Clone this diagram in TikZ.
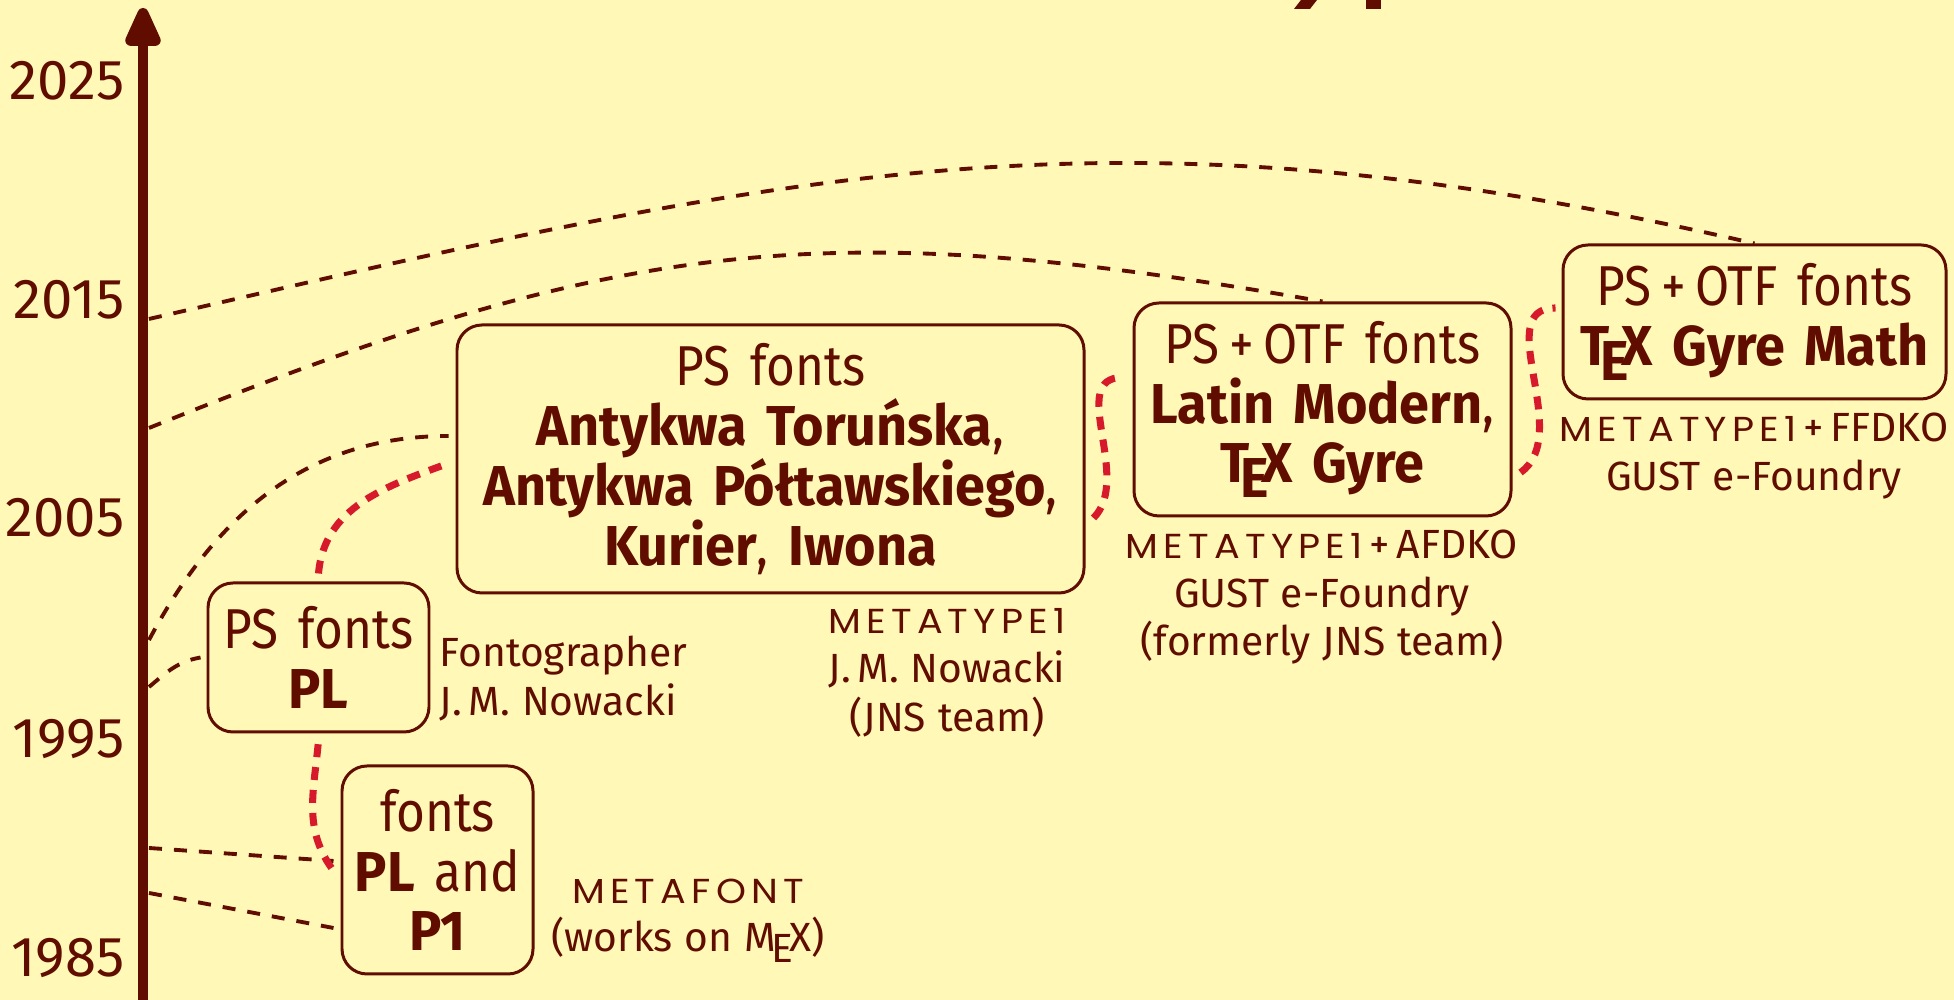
\documentclass[tikz,border=0pt]{standalone}
\usepackage{fontspec}
\setmainfont{Fira Sans}[FakeStretch=0.88,WordSpace=1.5,BoldFeatures={FakeStretch=0.96}]
\newfontfamily\notefont{Fira Sans}[WordSpace=1.1]
\newfontfamily\mtfont{Poppins}[Scale=0.85,FakeStretch=1.1,LetterSpace=15]
\usetikzlibrary{arrows.meta}
\definecolor{bgyellow}{HTML}{FFF8B6}
\definecolor{darkred}{HTML}{600D00}
\definecolor{linkred}{HTML}{D61A2B}
\newcommand{\mainsize}{\fontsize{16}{17}\selectfont}
\newcommand{\notesize}{\fontsize{11.6}{13.9}\selectfont}
\newcommand{\MEXlogo}{M\kern-.12em\lower.5ex\hbox{E}\kern-.08emX}
\newcommand{\MT}{{\mtfont METATYPE1}}
\begin{document}
\begin{tikzpicture}[
	fontbox/.style={draw=darkred,line width=0.85pt,rounded corners=0.25cm,align=center,inner sep=0pt,font=\mainsize,text=darkred},
	note/.style={anchor=north,align=center,inner sep=0pt,font=\notefont\notesize,text=darkred},
	year/.style={anchor=east,inner sep=0pt,font=\notefont\mainsize,text=darkred},
	yearlink/.style={darkred,line width=1.1pt,dash pattern=on 0.13cm off 0.12cm},
	redlink/.style={linkred,line width=2pt,dash pattern=on 0.13cm off 0.10cm}]
		%background
		\fill[bgyellow] (0,0) rectangle (19.54,10);
		\useasboundingbox (0,0) rectangle (19.54,10);
		\fill[darkred] (12.94,9.91) -- (13.10,9.91) -- (13.17,10) -- (13.01,10) -- cycle;
		\fill[darkred] (13.66,9.91) rectangle (13.81,10);
		%axis
		\coordinate (axisbot) at (1.43,-0.1);
		\coordinate (axistop) at (1.43,9.92);
		\draw[darkred,line width=3.1pt,-{Triangle[length=4.7mm,width=3.8mm,round]}] (axisbot) -- (axistop);
		\node[year] (y2025) at (1.25,9.19) {2025};
		\node[year] (y2015) at (1.25,7.00) {2015};
		\node[year] (y2005) at (1.25,4.82) {2005};
		\node[year] (y1995) at (1.25,2.61) {1995};
		\node[year] (y1985) at (1.25,0.42) {1985};
		%boxes
		\node[fontbox,minimum width=1.91cm,minimum height=2.08cm] (mf) at (4.375,1.30) {fonts\\\textbf{PL} and\\\textbf{P1}};
		\node[fontbox,minimum width=2.21cm,minimum height=1.49cm] (psPL) at (3.185,3.425) {PS fonts\\\textbf{PL}};
		\node[fontbox,minimum width=6.27cm,minimum height=2.68cm] (big) at (7.705,5.41) {PS fonts\\\textbf{Antykwa Toruńska},\\\textbf{Antykwa Półtawskiego},\\\textbf{Kurier}, \textbf{Iwona}};
		\node[fontbox,minimum width=3.77cm,minimum height=2.13cm] (lm) at (13.225,5.905) {PS\,+\,OTF fonts\\\textbf{Latin Modern},\\\textbf{\TeX\ Gyre}};
		\node[fontbox,minimum width=3.83cm,minimum height=1.54cm] (math) at (17.545,6.78) {PS\,+\,OTF fonts\\\textbf{\TeX\ Gyre Math}};
		%labels
		\node[note] (mfnote) at (6.88,1.22) {{\mtfont METAFONT}\\(works on \MEXlogo)};
		\node[note,align=left,anchor=north west] (psPLnote) at (4.39,3.65) {Fontographer\\J.\,M. Nowacki};
		\node[note] (bignote) at (9.47,3.92) {\MT\\J.\,M. Nowacki\\(JNS team)};
		\node[note] (lmnote) at (13.22,4.71) {\MT\,+\,AFDKO\\GUST e-Foundry\\(formerly JNS team)};
		\node[note] (mathnote) at (17.54,5.88) {\MT\,+\,FFDKO\\GUST e-Foundry};
		%years to fonts
		\coordinate (a1) at (1.49,6.81);
		\coordinate (a2) at (1.49,5.72);
		\coordinate (a3) at (1.49,3.60);
		\coordinate (a4) at (1.49,3.13);
		\coordinate (a5) at (1.49,1.52);
		\coordinate (a6) at (1.49,1.07);
		\draw[yearlink] (a1) to[out=13,in=167,looseness=1.05] (math.north);
		\draw[yearlink] (a2) to[out=22,in=170,looseness=1.1] (lm.north);
		\draw[yearlink] (a3) to[out=62,in=180] ([xshift=-0.07cm,yshift=0.23cm]big.west);
		\draw[yearlink] (a4) to[out=40,in=190] ([xshift=-0.06cm]psPL.west);
		\draw[yearlink] (a5) -- ([xshift=-0.07cm,yshift=0.09cm]mf.west);
		\draw[yearlink] (a6) -- ([xshift=-0.07cm,yshift=-0.58cm]mf.west);
		%successors
		\draw[redlink] ([xshift=-0.09cm,yshift=0.02cm]mf.west) to[out=125,in=-95] ([yshift=-0.07cm]psPL.south);
		\draw[redlink] ([yshift=0.08cm]psPL.north) to[out=85,in=200] ([xshift=-0.06cm,yshift=-0.04cm]big.west);
		\draw[redlink] ([xshift=0.08cm,yshift=-0.59cm]big.east) to[out=45,in=180] ([xshift=-0.1cm,yshift=0.32cm]lm.west);
		\draw[redlink] ([xshift=0.08cm,yshift=-0.63cm]lm.east) to[out=35,in=180] ([xshift=-0.06cm,yshift=0.14cm]math.west);
\end{tikzpicture}
\end{document}
